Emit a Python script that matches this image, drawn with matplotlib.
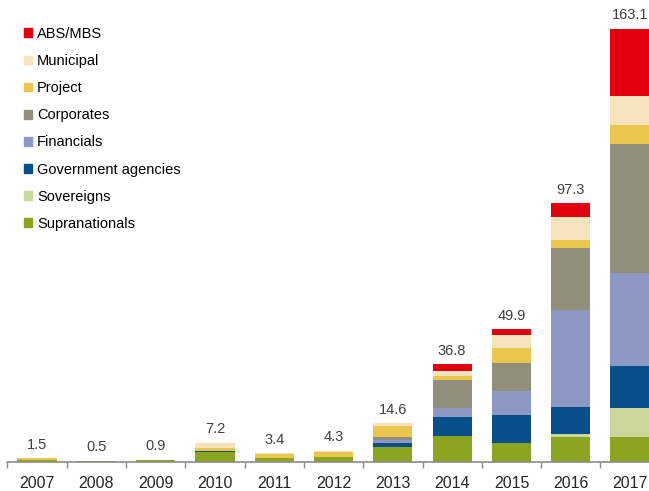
import numpy as np
import matplotlib
matplotlib.use('Agg')
import matplotlib.pyplot as plt
from matplotlib.patches import Patch

plt.rcParams['font.family'] = ['Liberation Sans', 'DejaVu Sans']

# Issuance by year and issuer type
years = ['2007', '2008', '2009', '2010', '2011', '2012', '2013', '2014', '2015', '2016', '2017']
totals = [1.5, 0.5, 0.9, 7.2, 3.4, 4.3, 14.6, 36.8, 49.9, 97.3, 163.1]

supranationals = [0.9, 0.5, 0.9, 3.8, 1.6, 1.7, 5.6, 9.6, 7.3, 9.5, 9.5]
sovereigns = [0.0, 0.0, 0.0, 0.0, 0.0, 0.0, 0.0, 0.0, 0.0, 0.9, 10.7]
gov_agencies = [0.0, 0.0, 0.0, 0.3, 0.0, 0.0, 1.5, 7.3, 10.5, 10.2, 15.9]
financials = [0.0, 0.0, 0.0, 0.0, 0.0, 0.0, 1.2, 3.4, 8.9, 36.5, 34.9]
corporates = [0.0, 0.0, 0.0, 0.0, 0.0, 0.0, 1.0, 10.6, 10.6, 23.4, 48.6]
project = [0.6, 0.0, 0.0, 1.2, 1.4, 2.0, 4.4, 1.6, 5.6, 3.1, 7.1]
municipal = [0.0, 0.0, 0.0, 1.9, 0.4, 0.6, 0.8, 1.6, 4.9, 8.4, 11.0]
abs_mbs = [0.0, 0.0, 0.0, 0.0, 0.0, 0.0, 0.1, 2.7, 2.1, 5.3, 25.3]

series = [
    ('Supranationals', supranationals, '#8ca520'),
    ('Sovereigns', sovereigns, '#cad79c'),
    ('Government agencies', gov_agencies, '#064f8a'),
    ('Financials', financials, '#8e98c4'),
    ('Corporates', corporates, '#918e7c'),
    ('Project', project, '#e9c64c'),
    ('Municipal', municipal, '#f5e4bb'),
    ('ABS/MBS', abs_mbs, '#e3000f'),
]

fig = plt.figure(figsize=(6.49, 4.91), dpi=100)
# axes runs slightly past the right edge, like the cropped original
ax = fig.add_axes([7.4 / 649, 29 / 491, 652.3 / 649, 462 / 491])

x = np.arange(len(years))
bottom = np.zeros(len(years))
for name, vals, col in series:
    ax.bar(x, vals, width=0.66, bottom=bottom, color=col, label=name, linewidth=0)
    bottom += np.array(vals)

for xi, t, b in zip(x, totals, bottom):
    ax.text(xi, b + 2.4, f'{t:.1f}', ha='center', va='bottom', fontsize=10.5, color='#404040')

ax.set_xlim(-0.5, len(years) - 0.5)
ax.set_ylim(0, 462 / 2.659)

for s in ['top', 'right', 'left']:
    ax.spines[s].set_visible(False)
ax.spines['bottom'].set_color('#8c8c8c')
ax.spines['bottom'].set_linewidth(1.2)
ax.set_yticks([])
ax.set_xticks(x)
ax.set_xticklabels(years, fontsize=11.5, color='#262626')
ax.tick_params(axis='x', which='major', length=0, pad=10)
ax.set_xticks(np.arange(-0.5, len(years), 1), minor=True)
ax.tick_params(axis='x', which='minor', length=4, color='#8c8c8c', width=1)

handles = [Patch(color=col, label=name) for name, vals, col in series][::-1]
ax.legend(handles=handles, loc='upper left', bbox_to_anchor=(24 / 649, 1 - 27 / 491),
          bbox_transform=fig.transFigure, frameon=False, fontsize=10.5,
          handlelength=0.55, handleheight=0.55, handletextpad=0.35,
          labelspacing=0.9, borderpad=0, borderaxespad=0)

plt.savefig('out.png', dpi=100)
